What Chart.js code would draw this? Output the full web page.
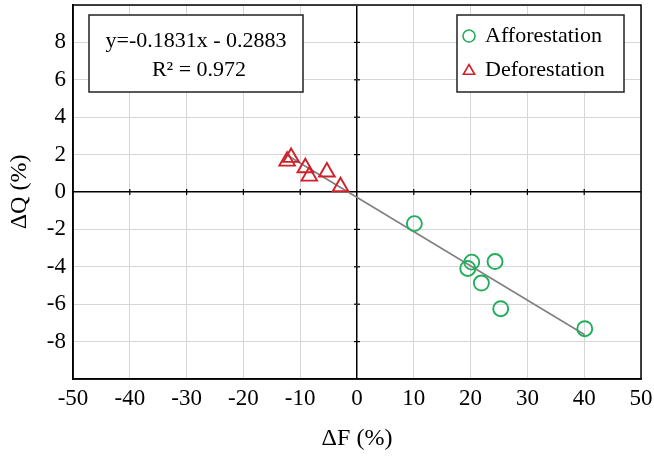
<!DOCTYPE html>
<html>
<head>
<meta charset="utf-8">
<script src="https://cdn.jsdelivr.net/npm/chart.js@4/dist/chart.umd.min.js"></script>
<style>
html,body{margin:0;padding:0;background:#fff;}
#wrap{width:654px;height:457px;position:relative;}
</style>
</head>
<body>
<div id="wrap"><canvas id="c" width="654" height="457"></canvas></div>
<script>
// ---- data ----
const afforestationX = [10.1, 20.2, 19.5, 24.3, 21.9, 25.3, 40.1];
const afforestationY = [-1.69, -3.75, -4.09, -3.72, -4.87, -6.24, -7.31];
const deforestationX = [-12.3, -11.6, -9.1, -8.4, -5.3, -2.9];
const deforestationY = [1.65, 1.85, 1.30, 0.85, 1.07, 0.28];
const fitSlope = -0.1831;
const fitIntercept = -0.2883;
const fitRange = [-12.3, 40.1];
const xTicks = [-50, -40, -30, -20, -10, 0, 10, 20, 30, 40, 50];
const yTicks = [-8, -6, -4, -2, 0, 2, 4, 6, 8];
const seriesNames = ['Afforestation', 'Deforestation'];
const eqLines = ['y=-0.1831x - 0.2883', 'R\u00B2 = 0.972'];

const GREEN = '#1fae5a';
const RED = '#d0202a';
const FONT = "'Liberation Serif', 'DejaVu Serif', serif";

const toPts = (xs, ys) => xs.map((x, i) => ({x: x, y: ys[i]}));

const framePlugin = {
  id: 'frame',
  afterDatasetsDraw(chart) {
    const {ctx, chartArea: a, scales} = chart;
    const xs = scales.x, ys = scales.y;
    ctx.save();
    // small tick marks on zero lines
    ctx.strokeStyle = '#000';
    ctx.lineWidth = 1.2;
    const y0 = ys.getPixelForValue(0), x0 = xs.getPixelForValue(0);
    xTicks.forEach(v => {
      if (v === 0 || Math.abs(v) === 50) return;
      const px = xs.getPixelForValue(v);
      ctx.beginPath(); ctx.moveTo(px, y0 - 3); ctx.lineTo(px, y0 + 3); ctx.stroke();
    });
    yTicks.forEach(v => {
      if (v === 0) return;
      const py = ys.getPixelForValue(v);
      ctx.beginPath(); ctx.moveTo(x0 - 3, py); ctx.lineTo(x0 + 3, py); ctx.stroke();
    });
    // frame
    ctx.lineWidth = 1.5;
    ctx.strokeRect(a.left, a.top, a.right - a.left, a.bottom - a.top);

    // equation box
    const ex = a.left + 16, ey = a.top + 10, ew = 214, eh = 77;
    ctx.fillStyle = '#fff';
    ctx.fillRect(ex, ey, ew, eh);
    ctx.lineWidth = 1.5;
    ctx.strokeStyle = '#222';
    ctx.strokeRect(ex, ey, ew, eh);
    ctx.fillStyle = '#000';
    ctx.font = '22px ' + FONT;
    ctx.textAlign = 'center';
    ctx.textBaseline = 'middle';
    ctx.fillText(eqLines[0], ex + ew / 2, ey + 26);
    ctx.fillText(eqLines[1], ex + ew / 2 + 3, ey + 55);

    // legend box
    const lx = a.right - 184, ly = a.top + 10, lw = 167, lh = 77;
    ctx.fillStyle = '#fff';
    ctx.fillRect(lx, ly, lw, lh);
    ctx.strokeStyle = '#222';
    ctx.strokeRect(lx, ly, lw, lh);
    // circle marker
    ctx.strokeStyle = GREEN; ctx.lineWidth = 1.6;
    ctx.beginPath(); ctx.arc(lx + 12, ly + 21, 6, 0, Math.PI * 2); ctx.stroke();
    // triangle marker
    ctx.strokeStyle = RED;
    const tx = lx + 12, ty = ly + 56, r = 6.5;
    ctx.beginPath();
    ctx.moveTo(tx, ty - r);
    ctx.lineTo(tx + r * 0.866, ty + r * 0.5);
    ctx.lineTo(tx - r * 0.866, ty + r * 0.5);
    ctx.closePath(); ctx.stroke();
    ctx.fillStyle = '#000';
    ctx.textAlign = 'left';
    ctx.font = '22px ' + FONT;
    ctx.fillText(seriesNames[0], lx + 28, ly + 21);
    ctx.fillText(seriesNames[1], lx + 28, ly + 55);
    ctx.restore();
  }
};

new Chart(document.getElementById('c'), {
  type: 'scatter',
  data: {
    datasets: [
      {
        label: 'Trend',
        type: 'line',
        data: fitRange.map(x => ({x: x, y: fitSlope * x + fitIntercept})),
        borderColor: '#808080',
        borderWidth: 1.6,
        pointRadius: 0,
        fill: false,
        order: 3
      },
      {
        label: seriesNames[0],
        data: toPts(afforestationX, afforestationY),
        pointStyle: 'circle',
        pointRadius: 7.5,
        borderColor: GREEN,
        backgroundColor: 'rgba(0,0,0,0)',
        borderWidth: 1.9,
        order: 1
      },
      {
        label: seriesNames[1],
        data: toPts(deforestationX, deforestationY),
        pointStyle: 'triangle',
        pointRadius: 9,
        borderColor: RED,
        backgroundColor: 'rgba(0,0,0,0)',
        borderWidth: 1.9,
        order: 2
      }
    ]
  },
  options: {
    responsive: false,
    animation: false,
    layout: {autoPadding: false, padding: {top: 5, right: 13, left: 0, bottom: 0}},
    plugins: {legend: {display: false}, tooltip: {enabled: false}},
    scales: {
      x: {
        type: 'linear',
        min: -50, max: 50,
        afterBuildTicks: s => { s.ticks = xTicks.map(v => ({value: v})); },
        ticks: {color: '#000', font: {family: FONT, size: 23}, padding: 6, maxRotation: 0},
        grid: {
          drawTicks: false,
          color: c => (c.tick && c.tick.value === 0) ? '#000' : '#d6d6d6',
          lineWidth: c => (c.tick && c.tick.value === 0) ? 1.5 : 1
        },
        border: {display: true, color: '#000', width: 1.5},
        title: {display: true, text: '\u0394F (%)', color: '#000', font: {family: FONT, size: 24}, padding: {top: 4, bottom: 4}},
        afterFit: s => { s.height = 78; s.paddingLeft = 0; s.paddingRight = 0; }
      },
      y: {
        type: 'linear',
        min: -10, max: 10,
        afterBuildTicks: s => { s.ticks = [-10].concat(yTicks, [10]).map(v => ({value: v})); },
        ticks: {
          color: '#000', font: {family: FONT, size: 23}, padding: 7,
          callback: v => (Math.abs(v) === 10 ? '' : String(v))
        },
        grid: {
          drawTicks: false,
          color: c => (c.tick && c.tick.value === 0) ? '#000' : '#d6d6d6',
          lineWidth: c => (c.tick && c.tick.value === 0) ? 1.5 : 1
        },
        border: {display: true, color: '#000', width: 1.5},
        title: {display: true, text: '\u0394Q (%)', color: '#000', font: {family: FONT, size: 24}, padding: {top: 5, bottom: 0}},
        afterFit: s => { s.width = 73; s.paddingTop = 0; s.paddingBottom = 0; }
      }
    }
  },
  plugins: [framePlugin]
});
</script>
</body>
</html>
